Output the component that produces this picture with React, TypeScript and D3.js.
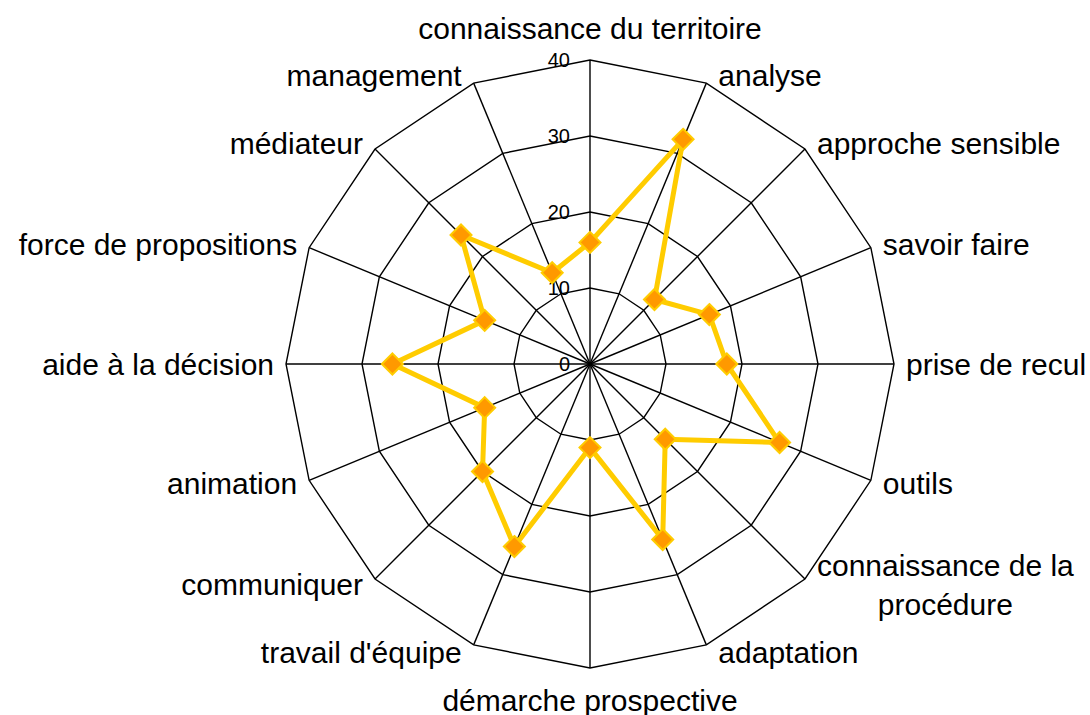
import React, { useEffect, useRef } from 'react'
import * as d3 from 'd3'

const categories = [
  'connaissance du territoire',
  'analyse',
  'approche sensible',
  'savoir faire',
  'prise de recul',
  'outils',
  'connaissance de la\nprocédure',
  'adaptation',
  'démarche prospective',
  "travail d'équipe",
  'communiquer',
  'animation',
  'aide à la décision',
  'force de propositions',
  'médiateur',
  'management',
]

const values = [16, 32, 12, 17, 18, 27, 14, 25, 11, 26, 20, 15, 26, 15, 24, 13]

const ticks = [0, 10, 20, 30, 40]

const RadarChart = ({
  width = 1090,
  height = 715,
  cx = 590,
  cy = 364,
  radius = 304,
  lineColor = '#FFCC00',
  markerColor = '#FF9900',
  font = '"Liberation Sans", Arial, sans-serif',
}) => {
  const chartRef = useRef<SVGSVGElement>(null)

  useEffect(() => {
    const svg = d3.select(chartRef.current)
    svg.selectAll('*').remove()

    const n = categories.length
    const maxVal = ticks[ticks.length - 1]

    // scales
    const angle = d3.scaleLinear().domain([0, n]).range([0, 2 * Math.PI])
    const r = d3.scaleLinear().domain([0, maxVal]).range([0, radius])
    const pt = (i: number, v: number) => [r(v) * Math.sin(angle(i)), -r(v) * Math.cos(angle(i))]

    const g = svg.append('g').attr('transform', `translate(${cx},${cy})`)

    const ring = d3
      .lineRadial<number>()
      .angle((_, i) => angle(i))
      .radius((d) => r(d))
      .curve(d3.curveLinearClosed)

    // grid rings
    ticks.slice(1).forEach((t) => {
      g.append('path')
        .attr('d', ring(categories.map(() => t)))
        .attr('fill', 'none')
        .attr('stroke', '#000')
        .attr('stroke-width', 1.4)
    })

    // spokes
    categories.forEach((_, i) => {
      const [x, y] = pt(i, maxVal)
      g.append('line')
        .attr('x1', 0)
        .attr('y1', 0)
        .attr('x2', x)
        .attr('y2', y)
        .attr('stroke', '#000')
        .attr('stroke-width', 1.4)
    })

    // tick labels
    ticks.forEach((t) => {
      g.append('text')
        .attr('x', -20)
        .attr('y', -r(t))
        .attr('text-anchor', 'end')
        .attr('dominant-baseline', 'central')
        .attr('font-family', font)
        .attr('font-size', 20)
        .attr('fill', '#000')
        .text(t)
    })

    // category labels
    categories.forEach((label, i) => {
      const a = angle(i)
      const s = Math.sin(a)
      const c = Math.cos(a)
      const [vx, vy] = pt(i, maxVal)
      const vertical = Math.abs(s) < 0.05
      const x0 = vertical ? vx : vx + 12 * Math.sign(s)
      const yc = vertical ? vy - c * 32 : vy - c * 8
      const lines = label.split('\n')
      const lh = 39
      const texts = lines.map((line, k) =>
        g.append('text')
          .attr('y', yc - ((lines.length - 1) * lh) / 2 + k * lh)
          .attr('text-anchor', 'middle')
          .attr('dominant-baseline', 'central')
          .attr('font-family', font)
          .attr('font-size', 30)
          .attr('fill', '#000')
          .text(line)
      )
      const blockW = d3.max(texts, (t) => (t.node() as SVGTextElement).getComputedTextLength()) || 0
      const xc = vertical ? x0 : s > 0 ? x0 + blockW / 2 : x0 - blockW / 2
      texts.forEach((t) => t.attr('x', xc))
    })

    // series line
    g.append('path')
      .attr('d', ring(values))
      .attr('fill', 'none')
      .attr('stroke', lineColor)
      .attr('stroke-width', 5)
      .attr('stroke-linejoin', 'round')

    // markers
    const m = 10.5
    values.forEach((v, i) => {
      const [x, y] = pt(i, v)
      g.append('path')
        .attr('d', `M${x},${y - m}L${x + m},${y}L${x},${y + m}L${x - m},${y}Z`)
        .attr('fill', markerColor)
        .attr('stroke', lineColor)
        .attr('stroke-width', 2)
    })
  }, [width, height, cx, cy, radius, lineColor, markerColor, font])

  return (
    <svg
      ref={chartRef}
      width={width}
      height={height}
      style={{ position: 'absolute', left: 0, top: 0, background: '#fff' }}
    />
  )
}

export default function App() {
  return <RadarChart />
}
